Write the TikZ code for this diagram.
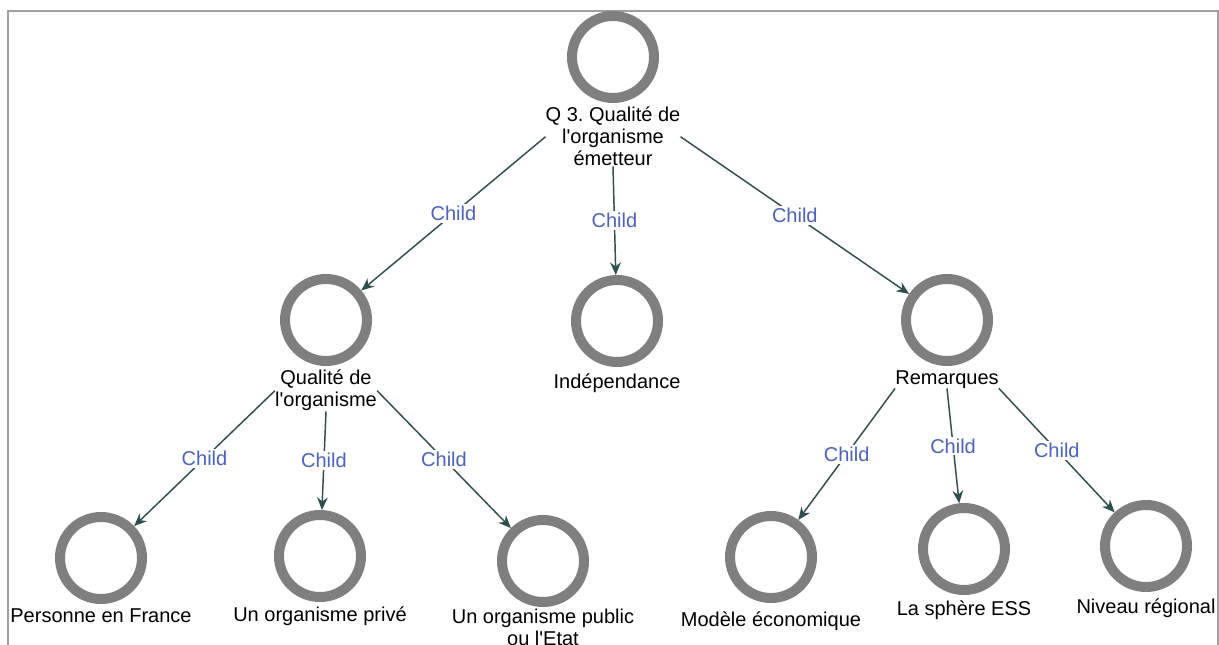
\documentclass[tikz,border=0pt]{standalone}
\usepackage{fontspec}
\newfontfamily\lblfont{Liberation Sans}
\usetikzlibrary{arrows.meta,positioning}
\definecolor{Ring}{HTML}{7F7F7F}
\definecolor{Edge}{HTML}{2F4F4F}
\definecolor{ChildBlue}{HTML}{4A62C4}
\definecolor{Frame}{HTML}{A0A0A0}
\frenchspacing

\begin{document}
\begin{tikzpicture}[x=0.75pt,y=-0.75pt,>={Stealth[length=9.5pt,width=8pt]},
    ring/.style={circle,draw=Ring,line width=7.5pt,minimum size=61.5pt,inner sep=0pt},
    txt/.style={inner sep=0pt,align=center,font=\lblfont\fontsize{15}{16.5}\selectfont},
    lab/.style={fill=white,inner sep=1.5pt,text=ChildBlue,font=\lblfont\fontsize{15}{16.5}\selectfont}]
    \clip (0,0) rectangle (1219,645);
    \draw[Frame,line width=1.1pt] (8,645) -- (8,11) -- (1218,11) -- (1218,645);
    \node[ring] (root) at (613,57) {};
    \node[txt,below=3pt of root] (root-l) {Q 3. Qualité de\\l'organisme\\émetteur};
    \node[ring] (qual) at (326,320) {};
    \node[txt,below=3pt of qual] (qual-l) {Qualité de\\l'organisme};
    \node[ring] (indep) at (617,321) {};
    \node[txt,below=5pt of indep] (indep-l) {Indépendance};
    \node[ring] (rem) at (947,320) {};
    \node[txt,below=3pt of rem] (rem-l) {Remarques};
    \node[ring] (pers) at (101,558) {};
    \node[txt,below=3pt of pers] (pers-l) {Personne en France};
    \node[ring] (priv) at (320,556) {};
    \node[txt,below=3pt of priv] (priv-l) {Un organisme privé};
    \node[ring] (pub) at (543,561) {};
    \node[txt,below=1pt of pub] (pub-l) {Un organisme public\\ou l'Etat};
    \node[ring] (mod) at (771,557) {};
    \node[txt,below=6pt of mod] (mod-l) {Modèle économique};
    \node[ring] (ess) at (964,549) {};
    \node[txt,below=4pt of ess] (ess-l) {La sphère ESS};
    \node[ring] (reg) at (1146,546) {};
    \node[txt,below=5pt of reg] (reg-l) {Niveau régional};
    \foreach \u/\v in {root-l.west/qual,root-l.south/indep,root-l.east/rem,
        qual-l.west/pers,qual-l.south/priv,qual-l.east/pub,
        rem-l.south west/mod,rem-l.south/ess,rem-l.south east/reg}
      \draw[->,Edge,line width=1.1pt] (\u) -- node[lab]{Child} (\v);
  \end{tikzpicture}
\end{document}
